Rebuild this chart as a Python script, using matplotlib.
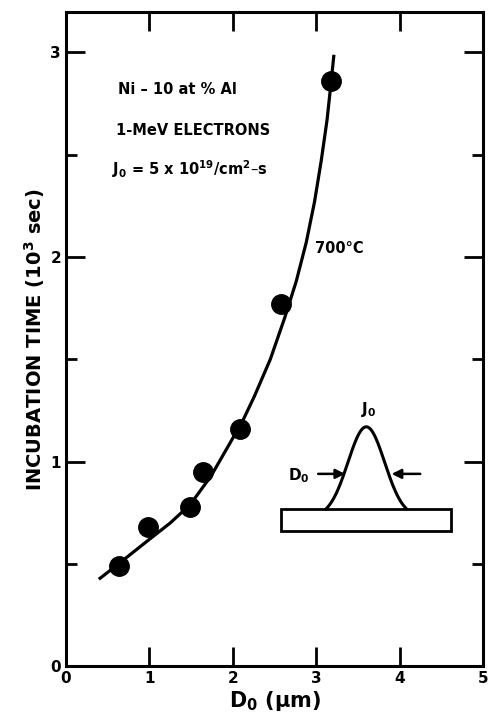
import numpy as np
import matplotlib
matplotlib.use("Agg")
import matplotlib.pyplot as plt
from matplotlib.ticker import MultipleLocator

plt.rcParams['font.family'] = ['DejaVu Sans']
plt.rcParams['font.weight'] = 'bold'
plt.rcParams['mathtext.default'] = 'regular'

# measured points (700 C)
d0 = [0.64, 0.98, 1.49, 1.64, 2.09, 2.58, 3.18]
t_inc = [0.49, 0.68, 0.78, 0.95, 1.16, 1.77, 2.86]

# hand-drawn trend curve
curve_x = [0.41, 0.63, 1.0, 1.25, 1.49, 1.74, 1.98, 2.12, 2.26, 2.45, 2.62,
           2.76, 2.88, 2.98, 3.06, 3.13, 3.18, 3.21]
curve_y = [0.43, 0.50, 0.62, 0.70, 0.79, 0.93, 1.10, 1.20, 1.32, 1.50, 1.70,
           1.88, 2.07, 2.27, 2.47, 2.67, 2.86, 2.98]

fig = plt.figure(figsize=(4.88, 7.25), dpi=100)
ax = fig.add_axes([0.135, 0.081, 0.855, 0.902])

ax.plot(curve_x, curve_y, color='black', lw=2.3, zorder=2, solid_joinstyle='round')
ax.plot(d0, t_inc, 'o', color='black', ms=14, zorder=3)

# inset sketch: beam profile on a specimen
ax.add_patch(plt.Rectangle((2.58, 0.66), 2.03, 0.11, fill=False, lw=2, ec='black'))
gx = np.linspace(-0.48, 0.48, 200)
g = np.exp(-gx**2 / (2 * 0.22**2))
g0 = g.min()
ax.plot(gx + 3.6, 0.77 + 0.40 * (g - g0) / (1 - g0), color='black', lw=2.2)
ax.annotate('', xy=(3.38, 0.94), xytext=(2.99, 0.94),
            arrowprops=dict(arrowstyle='-|>', color='black', lw=1.8, mutation_scale=14))
ax.annotate('', xy=(3.87, 0.94), xytext=(4.28, 0.94),
            arrowprops=dict(arrowstyle='-|>', color='black', lw=1.8, mutation_scale=14))
ax.text(2.92, 0.93, 'D$_0$', fontsize=11, fontweight='bold', ha='right', va='center')
ax.text(3.63, 1.21, 'J$_0$', fontsize=11, fontweight='bold', ha='center', va='bottom')

ax.text(0.62, 2.82, 'Ni – 10 at % Al', fontsize=10.5, fontweight='bold', va='center')
ax.text(0.6, 2.62, '1-MeV ELECTRONS', fontsize=10.5, fontweight='bold', va='center')
ax.text(0.55, 2.43, 'J$_0$ = 5 x 10$^{19}$/cm$^2$–s', fontsize=10.5, fontweight='bold', va='center')
ax.text(2.98, 2.04, '700°C', fontsize=10.5, fontweight='bold', va='center')

ax.set_xlim(0, 5)
ax.set_ylim(0, 3.195)
ax.xaxis.set_major_locator(MultipleLocator(1))
ax.yaxis.set_major_locator(MultipleLocator(1))
ax.yaxis.set_minor_locator(MultipleLocator(0.5))
ax.tick_params(which='both', direction='in', top=True, right=True, width=2, labelsize=11)
ax.tick_params(which='major', length=14)
ax.tick_params(which='minor', length=8)
for lab in ax.get_xticklabels() + ax.get_yticklabels():
    lab.set_fontweight('bold')
for s in ax.spines.values():
    s.set_linewidth(2.2)

ax.set_xlabel('D$_0$ ($\\mu$m)', fontsize=15, fontweight='bold', labelpad=2)
ax.set_ylabel('INCUBATION TIME (10$^3$ sec)', fontsize=14, fontweight='bold', labelpad=2)

fig.savefig('out.png', dpi=100)
